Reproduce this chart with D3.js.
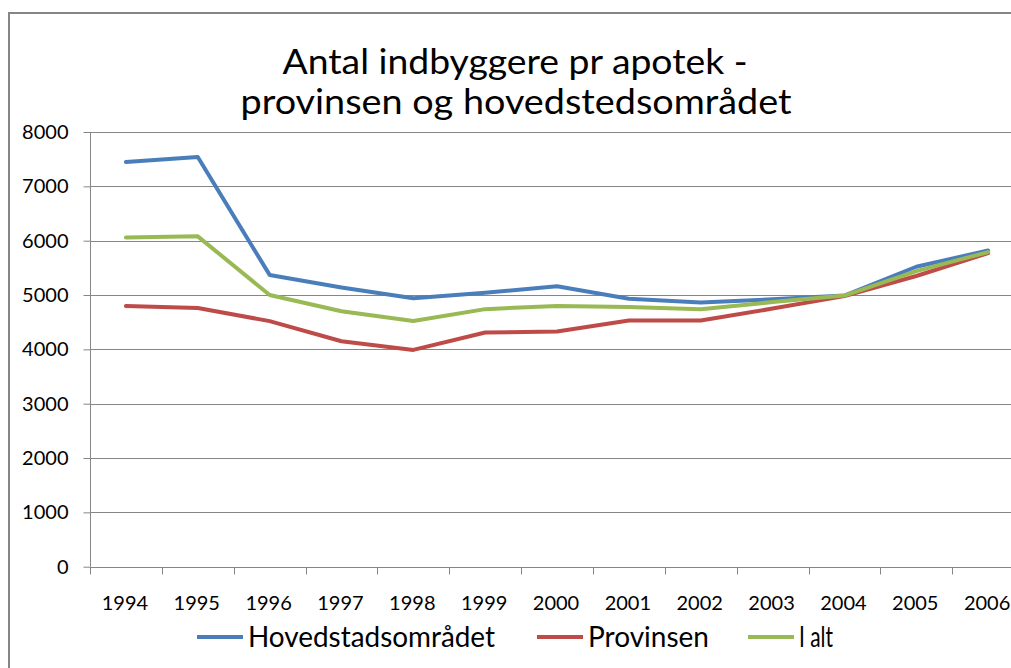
<!DOCTYPE html>
<html>
<head>
<meta charset="utf-8">
<script src="https://cdn.jsdelivr.net/npm/d3@7"></script>
<style>
  html, body { margin: 0; padding: 0; background: #fff; overflow: hidden; }
  text { font-family: Lato, "Liberation Sans", Arial, sans-serif; fill: #000; }
</style>
</head>
<body>
<div class="container"></div>
<script>
// data
const years = ["1994", "1995", "1996", "1997", "1998", "1999", "2000",
               "2001", "2002", "2003", "2004", "2005", "2006"];
const hovedstad = [7450, 7540, 5370, 5140, 4940, 5040, 5160, 4930, 4860, 4920, 4990, 5520, 5820];
const provinsen = [4800, 4760, 4520, 4150, 3990, 4310, 4330, 4530, 4530, 4750, 4980, 5350, 5770];
const iAlt = [6060, 6080, 5000, 4700, 4520, 4740, 4800, 4780, 4740, 4870, 4990, 5440, 5790];
const yTicks = [0, 1000, 2000, 3000, 4000, 5000, 6000, 7000, 8000];
const seriesNames = ["Hovedstadsområdet", "Provinsen", "I alt"];
const colors = ["#4a7ebb", "#be4b48", "#98b954"];

const w = 1011;
const h = 668;
const plotLeft = 90;
const step = 71.85;
const plotTop = 132;
const plotBottom = 566.7;

const svg = d3
    .select(".container")
    .append("svg")
    .attr("width", w)
    .attr("height", h);

// outer chart frame
svg.append("rect")
    .attr("x", 9)
    .attr("y", 13)
    .attr("width", 1100)
    .attr("height", 800)
    .attr("fill", "none")
    .attr("stroke", "#868686")
    .attr("stroke-width", 2);

// title
svg.append("text")
    .attr("x", 515)
    .attr("y", 74)
    .attr("text-anchor", "middle")
    .attr("font-size", 35)
    .attr("textLength", 465)
    .attr("lengthAdjust", "spacingAndGlyphs")
    .text("Antal indbyggere pr apotek -");
svg.append("text")
    .attr("x", 516)
    .attr("y", 114)
    .attr("text-anchor", "middle")
    .attr("font-size", 35)
    .attr("textLength", 551)
    .attr("lengthAdjust", "spacingAndGlyphs")
    .text("provinsen og hovedstedsområdet");

const xScale = d3
    .scaleBand()
    .domain(years)
    .range([plotLeft, plotLeft + step * years.length]);

const yScale = d3
    .scaleLinear()
    .domain([0, 8000])
    .range([plotBottom, plotTop]);

// gridlines
svg.append("g")
    .selectAll("line")
    .data(yTicks.filter((d) => d > 0))
    .enter()
    .append("line")
    .attr("x1", plotLeft)
    .attr("x2", plotLeft + step * years.length)
    .attr("y1", (d) => Math.round(yScale(d)) + 0.5)
    .attr("y2", (d) => Math.round(yScale(d)) + 0.5)
    .attr("stroke", "#868686")
    .attr("stroke-width", 1);

// y axis
const yAxis = d3.axisLeft(yScale).tickValues(yTicks).tickSize(7).tickPadding(15).tickFormat(d3.format("d"));
const gy = svg.append("g")
    .attr("id", "y-axis")
    .attr("transform", `translate(${plotLeft + 0.5}, 0)`)
    .call(yAxis);
gy.select(".domain").remove();
gy.append("line")
    .attr("y1", plotTop).attr("y2", plotBottom)
    .attr("stroke", "#868686");
gy.selectAll(".tick line").attr("stroke", "#868686");
gy.selectAll(".tick text")
    .attr("font-size", 20)
    .attr("font-family", "Lato, Liberation Sans, Arial, sans-serif")
    .attr("fill", "#000");

// x axis: ticks sit between categories
const gx = svg.append("g")
    .attr("id", "x-axis")
    .attr("transform", `translate(0, ${Math.round(plotBottom) + 0.5})`);
gx.append("line")
    .attr("x1", plotLeft).attr("x2", plotLeft + step * years.length)
    .attr("stroke", "#868686");
gx.selectAll(".xtick")
    .data(years.concat(["end"]))
    .enter()
    .append("line")
    .attr("class", "xtick")
    .attr("x1", (d, i) => Math.round(plotLeft + step * i) + 0.5)
    .attr("x2", (d, i) => Math.round(plotLeft + step * i) + 0.5)
    .attr("y1", 0)
    .attr("y2", 7)
    .attr("stroke", "#868686");
gx.selectAll(".xlabel")
    .data(years)
    .enter()
    .append("text")
    .attr("class", "xlabel")
    .attr("x", (d) => xScale(d) + xScale.bandwidth() / 2 - 1)
    .attr("y", 42)
    .attr("text-anchor", "middle")
    .attr("font-size", 20)
    .text((d) => d);

// lines
const allSeries = [hovedstad, provinsen, iAlt];
const line = d3
    .line()
    .x((d, i) => xScale(years[i]) + xScale.bandwidth() / 2)
    .y((d) => yScale(d));

allSeries.forEach((s, k) => {
    svg.append("path")
        .datum(s)
        .attr("d", line)
        .attr("fill", "none")
        .attr("stroke", colors[k])
        .attr("stroke-width", 4)
        .attr("stroke-linejoin", "round")
        .attr("stroke-linecap", "round");
});

// legend
const legendX = [197, 537, 748];
const legendW = [247, 121, 34];
const legend = svg.append("g").attr("transform", "translate(0, 637)");
seriesNames.forEach((name, k) => {
    legend.append("line")
        .attr("x1", legendX[k])
        .attr("x2", legendX[k] + 46)
        .attr("y1", 0)
        .attr("y2", 0)
        .attr("stroke", colors[k])
        .attr("stroke-width", 4);
    legend.append("text")
        .attr("x", legendX[k] + 51)
        .attr("y", 10)
        .attr("font-size", 28)
        .attr("textLength", legendW[k])
        .attr("lengthAdjust", "spacingAndGlyphs")
        .text(name);
});
</script>
</body>
</html>
